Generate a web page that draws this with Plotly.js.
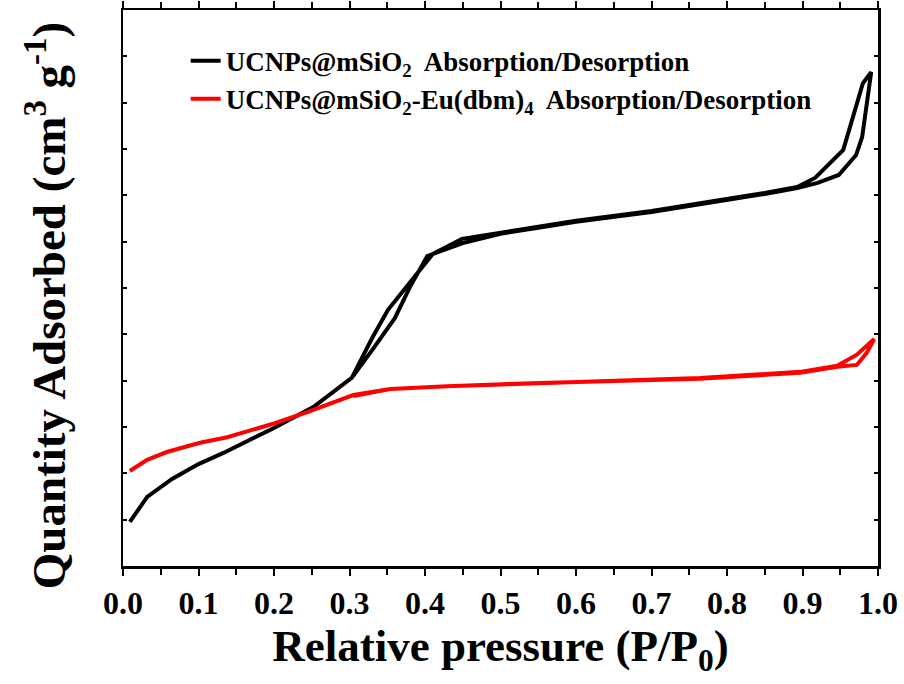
<!DOCTYPE html>
<html>
<head>
<meta charset="utf-8">
<script src="https://cdn.plot.ly/plotly-3.0.1.min.js"></script>
<style>html,body{margin:0;padding:0;background:#fff;}#chart{width:904px;height:684px;}</style>
</head>
<body>
<div id="chart"></div>
<script>
// Relative pressure (P/P0) and quantity adsorbed (arbitrary units, one unit per y tick)
const seriesNames = [
  "UCNPs@mSiO<sub>2</sub>  Absorption/Desorption",
  "UCNPs@mSiO<sub>2</sub>-Eu(dbm)<sub>4</sub>  Absorption/Desorption"
];
const seriesColors = ["#000000", "#ff0000"];

// UCNPs@mSiO2 adsorption branch
const blackAdsX = [0.009, 0.032, 0.065, 0.100, 0.133, 0.200, 0.252, 0.303, 0.330, 0.360, 0.380, 0.403, 0.450, 0.500, 0.550, 0.600, 0.700, 0.764, 0.800, 0.850, 0.893, 0.920, 0.948, 0.971, 0.979, 0.991];
const blackAdsY = [0.95, 1.49, 1.88, 2.20, 2.44, 2.98, 3.43, 4.06, 4.66, 5.35, 6.02, 6.69, 6.97, 7.17, 7.30, 7.43, 7.64, 7.80, 7.90, 8.03, 8.16, 8.27, 8.44, 8.87, 9.26, 10.66];
// UCNPs@mSiO2 desorption branch
const blackDesX = [0.991, 0.980, 0.954, 0.917, 0.893, 0.850, 0.800, 0.700, 0.600, 0.550, 0.500, 0.449, 0.410, 0.380, 0.351, 0.330, 0.303];
const blackDesY = [10.66, 10.42, 8.98, 8.38, 8.18, 8.05, 7.92, 7.66, 7.45, 7.32, 7.19, 7.06, 6.73, 6.11, 5.53, 4.92, 4.06];

// UCNPs@mSiO2-Eu(dbm)4 adsorption branch
const redAdsX = [0.009, 0.032, 0.058, 0.102, 0.138, 0.199, 0.244, 0.298, 0.305, 0.354, 0.429, 0.552, 0.764, 0.897, 0.946, 0.972, 0.985, 0.995];
const redAdsY = [2.05, 2.29, 2.46, 2.66, 2.78, 3.07, 3.32, 3.63, 3.69, 3.82, 3.88, 3.95, 4.04, 4.17, 4.30, 4.34, 4.60, 4.90];
// UCNPs@mSiO2-Eu(dbm)4 desorption branch
const redDesX = [0.995, 0.972, 0.946, 0.897, 0.764, 0.552, 0.429, 0.354, 0.305];
const redDesY = [4.90, 4.56, 4.32, 4.19, 4.06, 3.95, 3.88, 3.82, 3.67];

const xTickVals = [0, 0.1, 0.2, 0.3, 0.4, 0.5, 0.6, 0.7, 0.8, 0.9, 1.0];
const xTickText = ["0.0", "0.1", "0.2", "0.3", "0.4", "0.5", "0.6", "0.7", "0.8", "0.9", "1.0"];
const xTitle = "Relative pressure (P/P<sub>0</sub>)";
const yTitle = "Quantity Adsorbed (cm<sup>3</sup> g<sup>-1</sup>)";

const serif = "Liberation Serif, Times New Roman, serif";

const traces = [
  {x: blackAdsX.concat(blackDesX), y: blackAdsY.concat(blackDesY), name: seriesNames[0], mode: "lines",
   line: {color: seriesColors[0], width: 4}},
  {x: redAdsX.concat(redDesX), y: redAdsY.concat(redDesY), name: seriesNames[1], mode: "lines",
   line: {color: seriesColors[1], width: 4}}
];

const layout = {
  width: 904, height: 684,
  margin: {l: 123, r: 26, t: 10, b: 118},
  paper_bgcolor: "#fff", plot_bgcolor: "#fff",
  font: {family: serif, color: "#000"},
  showlegend: true,
  legend: {
    x: 0.083, y: 0.952, xanchor: "left", yanchor: "top",
    bgcolor: "rgba(0,0,0,0)", borderwidth: 0,
    font: {family: serif, size: 27, color: "#000", weight: "bold"},
    tracegroupgap: 0
  },
  xaxis: {
    range: [0, 1.0], tickvals: xTickVals, ticktext: xTickText,
    ticks: "outside", ticklen: 7, tickwidth: 2, tickcolor: "#000",
    minor: {dtick: 0.05, ticks: "outside", ticklen: 6, tickwidth: 2, tickcolor: "#000"},
    showline: true, linewidth: 2.5, linecolor: "#000", mirror: "ticks",
    showgrid: false, zeroline: false,
    tickfont: {family: serif, size: 32, color: "#000", weight: "bold"},
    title: {text: xTitle, font: {family: serif, size: 45, color: "#000", weight: "bold"}, standoff: 10}
  },
  yaxis: {
    range: [0, 12], dtick: 1, showticklabels: false,
    ticks: "inside", ticklen: 4, tickwidth: 2, tickcolor: "#000",
    showline: true, linewidth: 2.5, linecolor: "#000", mirror: "ticks",
    showgrid: false, zeroline: false,
    title: {text: ""}
  },
  annotations: [{
    text: yTitle, xref: "paper", yref: "paper", x: -0.102, y: 0.469,
    xanchor: "center", yanchor: "middle", textangle: -90, showarrow: false,
    font: {family: serif, size: 47, color: "#000", weight: "bold"}
  }]
};

Plotly.newPlot("chart", traces, layout, {displayModeBar: false, staticPlot: true});
</script>
</body>
</html>
